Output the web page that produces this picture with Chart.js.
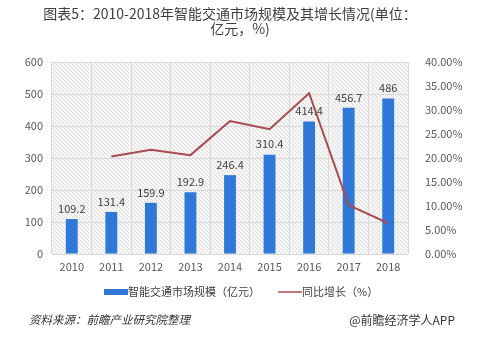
<!DOCTYPE html>
<html>
<head>
<meta charset="utf-8">
<script src="https://cdn.jsdelivr.net/npm/chart.js@4/dist/chart.umd.min.js"></script>
<style>
  html, body { margin: 0; padding: 0; background: #fff; }
  #wrap { width: 493px; height: 340px; }
</style>
</head>
<body>
<div id="wrap"><canvas id="c" width="493" height="340"></canvas></div>
<script>
const years = ['2010','2011','2012','2013','2014','2015','2016','2017','2018'];
const marketSize = [109.2, 131.4, 159.9, 192.9, 246.4, 310.4, 414.4, 456.7, 486];
const growthPct = [null, 20.3, 21.7, 20.6, 27.7, 26.0, 33.5, 10.2, 6.4];
const leftTicks = [0, 100, 200, 300, 400, 500, 600];
const rightTicks = [0, 5, 10, 15, 20, 25, 30, 35, 40];

const titleLines = ['图表5：2010-2018年智能交通市场规模及其增长情况(单位：', '亿元，%)'];
const barLabel = '智能交通市场规模（亿元）';
const lineLabel = '同比增长（%）';
const sourceText = '资料来源：前瞻产业研究院整理';
const brandText = '@前瞻经济学人APP';

const BAR_COLOR = '#2f78d8';
const LINE_COLOR = '#a84a4f';
const FONT = '"Noto Sans CJK SC", "Noto Sans", sans-serif';

// diagonal hatch for the plot background
function hatch() {
  const p = document.createElement('canvas');
  p.width = 4; p.height = 4;
  const x = p.getContext('2d');
  x.fillStyle = '#f6f6f6'; x.fillRect(0, 0, 4, 4);
  x.strokeStyle = '#dedede'; x.lineWidth = 1;
  x.beginPath(); x.moveTo(0, 0); x.lineTo(4, 4); x.stroke();
  x.beginPath(); x.moveTo(-1, 3); x.lineTo(1, 5); x.stroke();
  x.beginPath(); x.moveTo(3, -1); x.lineTo(5, 1); x.stroke();
  return x.createPattern(p, 'repeat');
}

const decor = {
  id: 'decor',
  beforeDraw(chart) {
    const { ctx, chartArea: a } = chart;
    ctx.save();
    ctx.fillStyle = hatch();
    ctx.fillRect(a.left, a.top, a.right - a.left, a.bottom - a.top);
    ctx.restore();
  },
  afterDraw(chart) {
    const { ctx } = chart;
    ctx.save();
    ctx.fillStyle = '#404040';
    ctx.textAlign = 'center';
    ctx.textBaseline = 'middle';
    ctx.font = `14px ${FONT}`;
    ctx.fillText(titleLines[0], 230, 14);
    ctx.fillText(titleLines[1], 240, 29);

    // legend
    ctx.font = `11px ${FONT}`;
    ctx.textAlign = 'left';
    ctx.fillStyle = BAR_COLOR;
    ctx.fillRect(104, 289, 24, 6);
    ctx.fillStyle = '#404040';
    ctx.fillText(barLabel, 128, 292);
    ctx.strokeStyle = LINE_COLOR; ctx.lineWidth = 1.5;
    ctx.beginPath(); ctx.moveTo(278, 292); ctx.lineTo(302, 292); ctx.stroke();
    ctx.fillText(lineLabel, 302, 292);

    // footer
    ctx.font = `italic 11.5px ${FONT}`;
    ctx.fillStyle = '#333';
    ctx.fillText(sourceText, 29, 320);
    ctx.font = `12px ${FONT}`;
    ctx.textAlign = 'right';
    ctx.fillText(brandText, 455, 320);

    // value labels on bars
    const meta = chart.getDatasetMeta(1);
    ctx.font = `11px ${FONT}`;
    ctx.textAlign = 'center';
    ctx.textBaseline = 'bottom';
    ctx.fillStyle = '#404040';
    meta.data.forEach((bar, i) => {
      ctx.fillText(String(marketSize[i]), bar.x, bar.y - 5);
    });
    ctx.restore();
  }
};

new Chart(document.getElementById('c'), {
  data: {
    labels: years,
    datasets: [
      {
        type: 'line', label: lineLabel, data: growthPct, yAxisID: 'y2',
        borderColor: LINE_COLOR, borderWidth: 2, pointRadius: 0, tension: 0, order: 0,
      },
      {
        type: 'bar', label: barLabel, data: marketSize, yAxisID: 'y',
        backgroundColor: BAR_COLOR, barPercentage: 0.3, categoryPercentage: 1, order: 1,
      },
    ],
  },
  options: {
    responsive: false,
    animation: false,
    devicePixelRatio: 1,
    layout: { padding: { top: 62, left: 0, right: 0, bottom: 0 } },
    plugins: { legend: { display: false }, tooltip: { enabled: false } },
    scales: {
      x: {
        grid: { color: '#d9d9d9', drawTicks: false },
        border: { display: false },
        ticks: { color: '#595959', font: { size: 11, family: FONT }, padding: 6 },
        afterFit: s => { s.height = 86; },
      },
      y: {
        position: 'left', min: 0, max: 600,
        afterBuildTicks: s => { s.ticks = leftTicks.map(v => ({ value: v })); },
        grid: { color: '#d9d9d9', drawTicks: false },
        border: { display: false },
        ticks: { color: '#595959', font: { size: 11, family: FONT }, padding: 9 },
        afterFit: s => { s.width = 52; },
      },
      y2: {
        position: 'right', min: 0, max: 40,
        afterBuildTicks: s => { s.ticks = rightTicks.map(v => ({ value: v })); },
        grid: { display: false },
        border: { display: false },
        ticks: {
          color: '#595959', font: { size: 11, family: FONT }, padding: 9,
          callback: v => v.toFixed(2) + '%',
        },
        afterFit: s => { s.width = 85; },
      },
    },
  },
  plugins: [decor],
});
</script>
</body>
</html>
